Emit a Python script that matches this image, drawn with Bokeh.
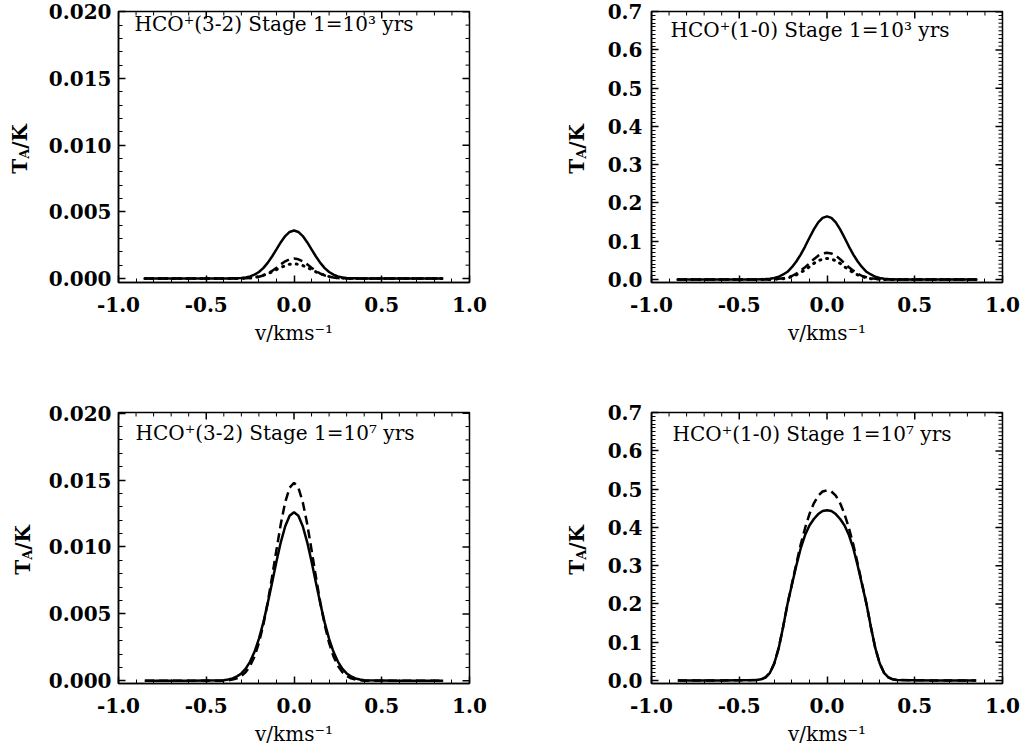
import math
from bokeh.plotting import figure
from bokeh.models import Range1d, LinearAxis, SingleIntervalTicker, PrintfTickFormatter, Label, Div
from bokeh.layouts import column, row
from bokeh.embed import file_html
from bokeh.resources import INLINE

# ---------------- data ----------------
v = [-0.85, -0.6, -0.4, -0.375, -0.35, -0.325, -0.3, -0.275, -0.25, -0.225, -0.2, -0.175,
     -0.15, -0.125, -0.1, -0.075, -0.05, -0.025, 0.0, 0.025, 0.05, 0.075, 0.1, 0.125, 0.15,
     0.175, 0.2, 0.225, 0.25, 0.275, 0.3, 0.325, 0.35, 0.375, 0.4, 0.6, 0.85]

tl_solid = [0, 0, 0, 0, 0.00001, 0.00002, 0.00004, 0.00008, 0.00016, 0.00029, 0.00049, 0.00078,
            0.00117, 0.00165, 0.00218, 0.00272, 0.00318, 0.00349, 0.0036, 0.00349, 0.00318, 0.00272,
            0.00218, 0.00165, 0.00117, 0.00078, 0.00049, 0.00029, 0.00016, 0.00008, 0.00004,
            0.00002, 0.00001, 0, 0, 0, 0]
tl_dashed = [0, 0, 0, 0, 0, 0, 0, 0.00001, 0.00003, 0.00007, 0.00013, 0.00023, 0.00037, 0.00057,
             0.00081, 0.00106, 0.00129, 0.00144, 0.0015, 0.00144, 0.00129, 0.00106, 0.00081,
             0.00057, 0.00037, 0.00023, 0.00013, 0.00007, 0.00003, 0.00001, 0, 0, 0, 0, 0, 0, 0]
tl_dotted = [0, 0, 0, 0, 0, 0, 0.00001, 0.00003, 0.00005, 0.00009, 0.00015, 0.00024, 0.00036,
             0.0005, 0.00067, 0.00083, 0.00097, 0.00107, 0.0011, 0.00107, 0.00097, 0.00083,
             0.00067, 0.0005, 0.00036, 0.00024, 0.00015, 0.00009, 0.00005, 0.00003, 0.00001,
             0, 0, 0, 0, 0, 0]

tr_solid = [0, 0, 0, 0.0005, 0.001, 0.002, 0.004, 0.007, 0.013, 0.020, 0.032, 0.047, 0.065, 0.086,
            0.109, 0.131, 0.149, 0.161, 0.165, 0.161, 0.149, 0.131, 0.109, 0.086, 0.065, 0.047,
            0.032, 0.020, 0.013, 0.007, 0.004, 0.002, 0.001, 0.0005, 0, 0, 0]
tr_dashed = [0, 0, 0, 0, 0, 0, 0.001, 0.002, 0.003, 0.006, 0.009, 0.015, 0.023, 0.032, 0.042,
             0.053, 0.062, 0.068, 0.070, 0.068, 0.062, 0.053, 0.042, 0.032, 0.023, 0.015, 0.009,
             0.006, 0.003, 0.002, 0.001, 0, 0, 0, 0, 0, 0]
tr_dotted = [0, 0, 0, 0, 0, 0, 0.001, 0.001, 0.002, 0.004, 0.007, 0.012, 0.018, 0.025, 0.033,
             0.042, 0.049, 0.053, 0.055, 0.053, 0.049, 0.042, 0.033, 0.025, 0.018, 0.012, 0.007,
             0.004, 0.002, 0.001, 0.001, 0, 0, 0, 0, 0, 0]

bl_solid = [0, 0, 0.00005, 0.0001, 0.00018, 0.00033, 0.00055, 0.00091, 0.00144, 0.00217, 0.00314,
            0.00435, 0.00577, 0.00732, 0.00891, 0.01037, 0.01155, 0.01234, 0.0126, 0.01234,
            0.01155, 0.01037, 0.00891, 0.00732, 0.00577, 0.00435, 0.00314, 0.00217, 0.00144,
            0.00091, 0.00055, 0.00033, 0.00018, 0.0001, 0.00005, 0, 0]
bl_dashed = [0, 0, 0.00001, 0.00004, 0.00009, 0.00019, 0.00036, 0.00065, 0.00112, 0.00182,
             0.00283, 0.00417, 0.00585, 0.00776, 0.00978, 0.01174, 0.01335, 0.01443, 0.0148,
             0.01443, 0.01335, 0.01174, 0.00978, 0.00776, 0.00585, 0.00417, 0.00283, 0.00182,
             0.00112, 0.00065, 0.00036, 0.00019, 0.00009, 0.00004, 0.00001, 0, 0]

br_solid = [0, 0, 0.001, 0.003, 0.008, 0.02, 0.045, 0.085, 0.14, 0.20, 0.25, 0.30, 0.345, 0.38,
            0.405, 0.422, 0.435, 0.443, 0.445, 0.443, 0.435, 0.422, 0.405, 0.38, 0.345, 0.30,
            0.25, 0.20, 0.14, 0.085, 0.045, 0.02, 0.008, 0.003, 0.001, 0, 0]
br_dashed = [0, 0, 0.001, 0.003, 0.008, 0.02, 0.045, 0.085, 0.14, 0.2, 0.252, 0.305, 0.355, 0.398,
             0.435, 0.463, 0.483, 0.494, 0.497, 0.494, 0.483, 0.463, 0.435, 0.398, 0.355, 0.305,
             0.252, 0.2, 0.14, 0.085, 0.045, 0.02, 0.008, 0.003, 0.001, 0, 0]

titles = ["HCO\u207a(3-2) Stage 1=10\u00b3 yrs", "HCO\u207a(1-0) Stage 1=10\u00b3 yrs",
          "HCO\u207a(3-2) Stage 1=10\u2077 yrs", "HCO\u207a(1-0) Stage 1=10\u2077 yrs"]
x_label = "v/kms\u207b\u00b9"
y_label_html = "T<sub style=\"font-size:13px;\">A</sub>/K"

FONT = "DejaVu Serif"
FRAME_W, FRAME_H = 351, 271


def style_axis(ax):
    ax.axis_line_color = "black"
    ax.axis_line_width = 1.5
    ax.major_tick_in = 7
    ax.major_tick_out = 0
    ax.minor_tick_in = 4
    ax.minor_tick_out = 0
    ax.major_tick_line_color = "black"
    ax.major_tick_line_width = 1.5
    ax.minor_tick_line_color = "black"
    ax.minor_tick_line_width = 1
    ax.major_label_text_font = FONT
    ax.major_label_text_font_style = "bold"
    ax.major_label_text_color = "black"
    ax.major_label_text_font_size = "20px"


def panel(width, height, bl, br, bt, bb, yrange, yint, ynminor, yfmt, title, toff, series, ystand):
    p = figure(width=width, height=height, min_border_left=bl, min_border_right=br,
               min_border_top=bt, min_border_bottom=bb,
               x_range=Range1d(-1, 1), y_range=Range1d(*yrange),
               x_axis_location=None, y_axis_location=None,
               output_backend="svg", toolbar_location=None)
    p.grid.grid_line_color = None
    p.outline_line_color = "black"
    p.outline_line_width = 1.5
    p.background_fill_color = "white"
    p.border_fill_color = "white"

    ax = LinearAxis(ticker=SingleIntervalTicker(interval=0.5, num_minor_ticks=5),
                    formatter=PrintfTickFormatter(format="%.1f"))
    style_axis(ax)
    ax.major_label_standoff = 14
    ax.axis_label = x_label
    ax.axis_label_text_font = FONT
    ax.axis_label_text_font_size = "20px"
    ax.axis_label_text_font_style = "normal"
    ax.axis_label_text_color = "black"
    ax.axis_label_standoff = 6
    p.add_layout(ax, "below")

    ay = LinearAxis(ticker=SingleIntervalTicker(interval=yint, num_minor_ticks=ynminor),
                    formatter=PrintfTickFormatter(format=yfmt))
    style_axis(ay)
    ay.major_label_standoff = ystand
    p.add_layout(ay, "left")

    # mirrored tick marks on the top and right edges of the frame
    x0, x1 = -1.0, 1.0
    y0, y1 = yrange
    xmaj = [x0 + 0.5 * i for i in range(5)]
    xmin = [x0 + 0.1 * i for i in range(21) if i % 5]
    n_y = int(round(y1 / yint)) + 1
    ymaj = [yint * k for k in range(n_y) if yint * k <= y1]
    ystep = yint / ynminor
    ymin = [ystep * k for k in range(int(round(y1 / ystep)) + 1) if k % ynminor and ystep * k <= y1]
    p.ray(x=xmaj, y=[y1] * len(xmaj), length=7, angle=-math.pi / 2, length_units="screen",
          line_color="black", line_width=1.5)
    p.ray(x=xmin, y=[y1] * len(xmin), length=4, angle=-math.pi / 2, length_units="screen",
          line_color="black", line_width=1)
    p.ray(x=[x1] * len(ymaj), y=ymaj, length=7, angle=math.pi, length_units="screen",
          line_color="black", line_width=1.5)
    p.ray(x=[x1] * len(ymin), y=ymin, length=4, angle=math.pi, length_units="screen",
          line_color="black", line_width=1)

    for ys, kind in series:
        if kind == "solid":
            p.line(v, ys, line_color="black", line_width=2.5)
        elif kind == "dashed":
            p.line(v, ys, line_color="black", line_width=2.5, line_dash="9 5")
        else:
            p.line(v, ys, line_color="black", line_width=3, line_dash="1 6", line_cap="round")

    p.add_layout(Label(x=toff[0], y=FRAME_H - toff[1], x_units="screen", y_units="screen",
                       text=title, text_font=FONT, text_font_size="20px",
                       text_color="black", text_align="left", text_baseline="middle"))
    return p


def ylabel_div(width, height, top, left):
    html = ('<div style="position:relative;width:%dpx;height:%dpx;">'
            '<div style="position:absolute;left:%dpx;top:%dpx;width:20px;height:%dpx;'
            'display:flex;align-items:center;justify-content:center;">'
            '<span style="writing-mode:vertical-rl;transform:rotate(180deg);'
            "font-family:'DejaVu Serif';font-size:20px;font-weight:bold;color:black;"
            'white-space:nowrap;line-height:1;">%s</span></div></div>') % (
                width, height, left, top + 2, FRAME_H, y_label_html)
    return Div(text=html, width=width, height=height, margin=0)


p1 = panel(511, 380, 74, 86, 11, 98, (-0.0003, 0.02002), 0.005, 5, "%.3f", titles[0], (16, 12),
           [(tl_solid, "solid"), (tl_dashed, "dashed"), (tl_dotted, "dotted")], 7)
p2 = panel(425, 380, 51, 23, 11, 98, (-0.008, 0.7005), 0.1, 10, "%.1f", titles[1], (19, 18),
           [(tr_solid, "solid"), (tr_dashed, "dashed"), (tr_dotted, "dotted")], 9)
p3 = panel(511, 370, 74, 86, 32, 67, (-0.0002, 0.02005), 0.005, 5, "%.3f", titles[2], (17, 20),
           [(bl_solid, "solid"), (bl_dashed, "dashed")], 7)
p4 = panel(425, 370, 51, 23, 32, 67, (-0.008, 0.7005), 0.1, 10, "%.1f", titles[3], (21, 21),
           [(br_solid, "solid"), (br_dashed, "dashed")], 9)

d1 = ylabel_div(44, 380, 11, 10)
d2 = ylabel_div(45, 380, 11, 12)
d3 = ylabel_div(44, 370, 32, 13)
d4 = ylabel_div(45, 370, 32, 12)

layout = column(row(d1, p1, d2, p2), row(d3, p3, d4, p4))

with open("out.html", "w", encoding="utf-8") as f:
    f.write(file_html(layout, INLINE))
